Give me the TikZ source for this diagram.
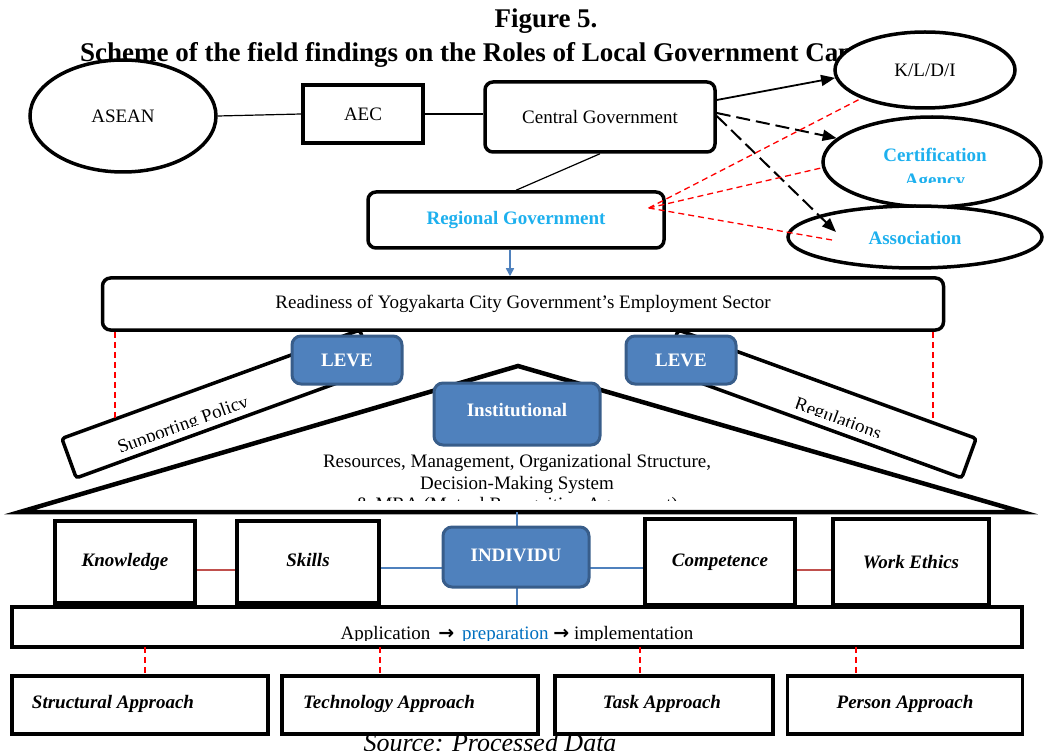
\documentclass[tikz,border=0pt]{standalone}
\usepackage{fontspec}
\setmainfont{Liberation Serif}
\newfontfamily\djv{DejaVu Sans}
\usetikzlibrary{shapes.geometric,arrows.meta}
\definecolor{cyantext}{HTML}{1DB0EE}
\definecolor{boxblue}{HTML}{4F81BD}
\definecolor{boxborder}{HTML}{385D8A}
\definecolor{linkred}{HTML}{C0504D}
\definecolor{prepblue}{HTML}{0070C0}
\begin{document}
\begin{tikzpicture}[x=1pt,y=-1pt,
  thickbox/.style={draw, line width=3.5pt, fill=white, inner sep=0pt},
  rbox/.style={thickbox, rounded corners=8pt},
  ell/.style={draw, ellipse, line width=3.5pt, fill=white, inner sep=0pt},
  bluebox/.style={draw=boxborder, fill=boxblue, line width=3pt, rounded corners=9pt, inner sep=0pt, text=white, font=\fontsize{19}{21}\selectfont\bfseries},
  txt/.style={font=\fontsize{19}{22}\selectfont, inner sep=0pt},
  cyanb/.style={font=\fontsize{19}{22}\selectfont\bfseries, text=cyantext, inner sep=0pt},
  bitxt/.style={font=\fontsize{19}{22}\selectfont\bfseries\itshape, inner sep=0pt},
  redd/.style={draw=red, line width=1.3pt, dash pattern=on 6pt off 4pt},
  blkdash/.style={line width=2pt, dash pattern=on 14pt off 6pt},
  tip/.style={-{Triangle[length=14pt,width=11pt]}},
  beam/.style={draw, line width=3.5pt, fill=white, rounded corners=3pt, inner sep=0pt, minimum width=317, minimum height=42}
]
\useasboundingbox (0,0) rectangle (1044,751);

% Title
\node[font=\fontsize{27}{30}\selectfont\bfseries, inner sep=0pt] (fig) at (546,21) {Figure 5.};
\node[font=\fontsize{27}{30}\selectfont\bfseries, inner sep=0pt, anchor=west] (title) at (80,55) {Scheme of the field findings on the Roles of Local Government Capacity};

% Top row
\node[ell, minimum width=186, minimum height=112, txt] (asean) at (123,116) {ASEAN};
\node[thickbox, minimum width=120, minimum height=58, txt] (aec) at (363,114) {AEC};
\node[rbox, minimum width=230, minimum height=70, txt] (cg) at (600,117) {Central Government};
\draw[line width=1.2pt] (asean.east) -- (aec.west);
\draw[line width=1.2pt] (aec.east) -- (aec.east -| cg.west);

\node[ell, minimum width=180, minimum height=76, txt] (kldi) at (925,70) {K/L/D/I};
\node[ell, minimum width=218, minimum height=90] (cert) at (932,162) {};
\node[cyanb] (certt) at (935,155) {Certification};
\begin{scope}
  \clip (880,166) rectangle (990,183);
  \node[cyanb] (agency) at (935,182) {Agency};
\end{scope}
\node[ell, minimum width=254, minimum height=62] (assoc) at (915,237) {};
\node[cyanb] (assoct) at (915,238) {Association};

% Regional
\node[rbox, minimum width=296, minimum height=56, cyanb] (rg) at (516,220) {Regional Government};
\draw[line width=1.2pt] (cg.south) -- (rg.north);

% arrows from central
\draw[line width=1.8pt, tip] ([yshift=17pt]cg.east) -- (kldi.185);
\draw[blkdash, tip] ([yshift=4pt]cg.east) -- (cert.166);
\coordinate (asin) at (836,232);
\draw[blkdash, tip] ([yshift=1pt]cg.east) -- (asin);

% red dashed from regional
\coordinate (rgp) at ([xshift=-17pt,yshift=12pt]rg.east);
\coordinate (asr) at (832,240);
\draw[redd] (rgp) -- (kldi.204);
\draw[redd] (rgp) -- (cert.183);
\draw[redd] (rgp) -- (asr);

% beams
\node[beam, rotate=20] (spbeam) at (218,404) {};
\node[beam, rotate=-20] (rgbeam) at (820,404) {};
\begin{scope}[shift={(218,404)}, rotate=20]
  \clip (-160,-25) rectangle (160,12);
  \node[txt, rotate=20] (sptext) at (-40,9) {Supporting Policy};
\end{scope}
\begin{scope}[shift={(820,404)}, rotate=-20]
  \clip (-160,-25) rectangle (160,12);
  \node[txt, rotate=-20] (rgtext) at (22,9) {Regulations};
\end{scope}

% Readiness
\node[rbox, minimum width=841, minimum height=52, txt] (ready) at (523,304) {Readiness of Yogyakarta City Government’s Employment Sector};
\draw[boxblue, line width=1.5pt, -{Triangle[length=8pt,width=8pt]}] ([xshift=-6pt]rg.south) -- ([xshift=-6pt]rg.south |- ready.north);

\coordinate (rl) at (115,420);
\coordinate (rr) at (933,420);
\draw[redd] (rl |- ready.south) -- (rl);
\draw[redd] (rr |- ready.south) -- (rr);

% roof triangle
\coordinate (apex) at (518,366);
\coordinate (bl) at (20,512);
\coordinate (br) at (1022,512);
\draw[line width=4.5pt, line join=miter] (bl) -- (apex) -- (br) -- cycle;

\node[bluebox, minimum width=110, minimum height=48] (leveL) at (347,360) {LEVE};
\node[bluebox, minimum width=110, minimum height=48] (leveR) at (681,360) {LEVE};
\node[bluebox, minimum width=166, minimum height=62] (inst) at (517,414) {};
\node[text=white, font=\fontsize{19}{21}\selectfont\bfseries, inner sep=0pt] (instt) at (517,410) {Institutional};

\node[txt, align=center, font=\fontsize{19}{21.5}\selectfont] (res) at (517,474) {Resources, Management, Organizational Structure,\\Decision-Making System};
\begin{scope}
  \clip (200,490) rectangle (830,500);
  \node[txt] (mra) at (517,506) {\& MRA (Mutual Recognition Agreement)};
\end{scope}

% individual row
\coordinate (vt) at (517,512);
\node[thickbox, minimum width=140, minimum height=82] (know) at (125,562) {};
\node[bitxt] (knowt) at (125,562) {Knowledge};
\node[thickbox, minimum width=142, minimum height=82] (skill) at (308,562) {};
\node[bitxt] (skillt) at (308,560) {Skills};
\node[thickbox, minimum width=150, minimum height=86] (comp) at (720,562) {};
\node[bitxt] (compt) at (720,562) {Competence};
\node[thickbox, minimum width=156, minimum height=86] (work) at (911,562) {};
\node[bitxt] (workt) at (911,562) {Work Ethics};

\node[thickbox, minimum width=1010, minimum height=40] (app) at (517,627) {};
\begin{scope}
  \clip (100,612) rectangle (950,640);
  \node[txt] (appt) at (517,635) {Application \,{\djv\bfseries →}\, \textcolor{prepblue}{preparation} {\djv\bfseries →} implementation};
\end{scope}

\draw[boxblue, line width=1.3pt] (vt) -- (vt |- app.north);
\draw[boxblue, line width=1.3pt] ([yshift=-6pt]skill.east) -- ([yshift=-6pt]skill.east -| comp.west);
\node[bluebox, minimum width=146, minimum height=60] (indiv) at (516,557) {};
\node[text=white, font=\fontsize{19}{21}\selectfont\bfseries, inner sep=0pt] (indivt) at (516,555) {INDIVIDU};
\draw[linkred, line width=1.5pt] ([yshift=-8pt]know.east) -- ([yshift=-8pt]know.east -| skill.west);
\draw[linkred, line width=1.5pt] ([yshift=-8pt]comp.east) -- ([yshift=-8pt]comp.east -| work.west);

% approaches
\node[thickbox, minimum width=256, minimum height=58] (stru) at (140,705) {};
\node[bitxt] (strut) at (113,704) {Structural Approach};
\node[thickbox, minimum width=256, minimum height=58] (tech) at (410,705) {};
\node[bitxt] (techt) at (389,704) {Technology Approach};
\node[thickbox, minimum width=218, minimum height=58] (task) at (664,705) {};
\node[bitxt] (taskt) at (662,704) {Task Approach};
\node[thickbox, minimum width=235, minimum height=58] (pers) at (905,705) {};
\node[bitxt] (perst) at (905,704) {Person Approach};

\foreach \xx in {145, 380, 640, 856} {
  \draw[redd] (\xx,647) -- (\xx,676);
}

\node[font=\fontsize{26}{28}\selectfont\itshape, inner sep=0pt] (src) at (490,743) {Source: Processed Data};
\end{tikzpicture}
\end{document}
